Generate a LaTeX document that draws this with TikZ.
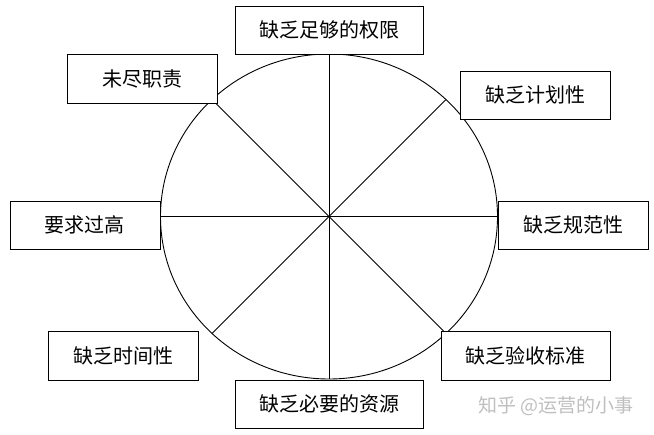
\documentclass[tikz,border=0pt]{standalone}
\usepackage{fontspec}
\usetikzlibrary{shapes.geometric}
\newfontfamily\cjk{Noto Sans CJK SC}
\begin{document}
\begin{tikzpicture}[x=1pt,y=-1pt,line width=0.9pt,
  lbl/.style={draw=black,fill=white,rectangle,inner sep=0pt,outer sep=0pt,
    minimum width=150pt,minimum height=48pt,font=\cjk\fontsize{20}{22}\selectfont},
  wide/.style={minimum width=188pt},
  spoke/.style={draw=black}]
\useasboundingbox (0,0) rectangle (654,435);
\node[ellipse,draw=black,inner sep=0pt,outer sep=0pt,minimum width=337pt,minimum height=325pt] (c) at (329,216.5) {};
\foreach \a in {0,45,...,315} \draw[spoke] (c.center) -- (c.\a);
\node[lbl,wide] (t) at (329,30) {缺乏足够的权限};
\node[lbl,minimum height=49pt] (ul) at (142,78.5) {未尽职责};
\node[lbl] (ur) at (535,95) {缺乏计划性};
\node[lbl] (l) at (85,225) {要求过高};
\node[lbl] (r) at (573,225) {缺乏规范性};
\node[lbl,minimum height=49pt] (dl) at (123,355.5) {缺乏时间性};
\node[lbl,minimum width=169pt,minimum height=49pt] (dr) at (525.5,355.5) {缺乏验收标准};
\node[lbl,wide] (b) at (329,404) {缺乏必要的资源};
\node[font=\cjk\fontsize{19}{21}\selectfont,text=black!25,inner sep=0pt] (wm) at (556,406) {知乎 @运营的小事};
\end{tikzpicture}
\end{document}
